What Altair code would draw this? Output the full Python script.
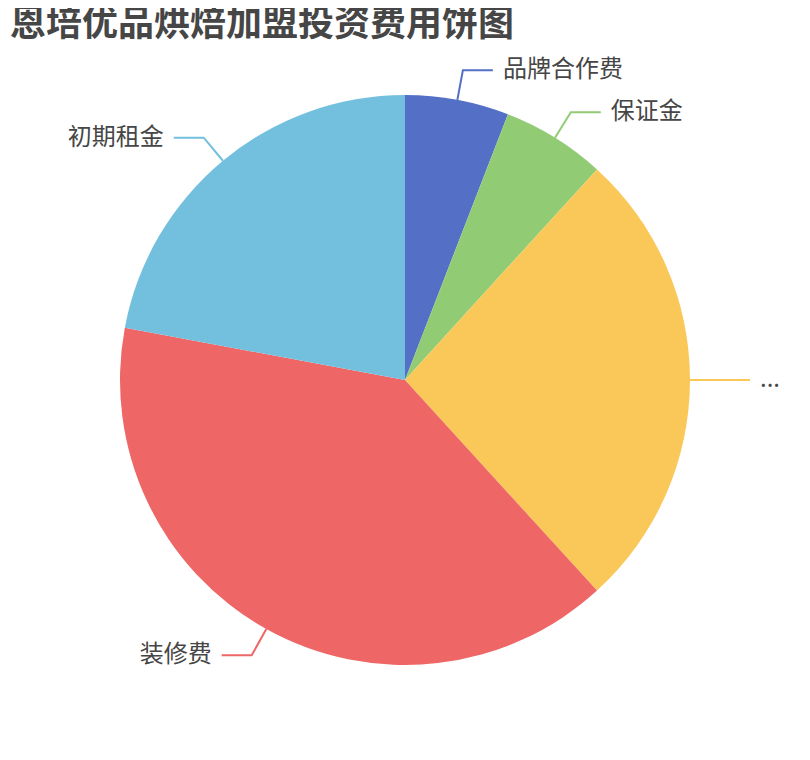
import math
import altair as alt
import pandas as pd

TITLE = "恩培优品烘焙加盟投资费用饼图"
categories = ["品牌合作费", "保证金", "...", "装修费", "初期租金"]
values = [2, 2, 9, 13.5, 7.5]
colors = ["#5470c6", "#91cc75", "#fac858", "#ee6666", "#73c0de"]

W, H = 794, 744
R = 285
L1, L2, GAP = 30, 30, 10

total = sum(values)
rows, lines, labels = [], [], []
cum = 0.0
for i, (c, v) in enumerate(zip(categories, values)):
    rows.append({"cat": c, "value": v, "idx": i})
    mid = (cum + v / 2) / total * 2 * math.pi
    cum += v
    sx, cy = math.sin(mid), math.cos(mid)
    right = sx >= -1e-9
    p0 = (R * sx, R * cy)
    p1 = ((R + L1) * sx, (R + L1) * cy)
    p2 = (p1[0] + (L2 if right else -L2), p1[1])
    for k, p in enumerate([p0, p1, p2]):
        lines.append({"cat": c, "k": k, "x": p[0], "y": p[1]})
    labels.append({"cat": c, "x": p2[0] + (GAP if right else -GAP), "y": p2[1],
                   "side": "r" if right else "l"})

df = pd.DataFrame(rows)
dl = pd.DataFrame(lines)
dt = pd.DataFrame(labels)

cscale = alt.Scale(domain=categories, range=colors)
xs = alt.Scale(domain=[-W / 2, W / 2], nice=False, zero=False)
ys = alt.Scale(domain=[-H / 2, H / 2], nice=False, zero=False)

pie = alt.Chart(df).mark_arc(radius=R).encode(
    theta=alt.Theta("value:Q", stack=True),
    color=alt.Color("cat:N", scale=cscale, legend=None),
    order=alt.Order("idx:Q"),
)

leader = alt.Chart(dl).mark_line(strokeWidth=2).encode(
    x=alt.X("x:Q", scale=xs, axis=None),
    y=alt.Y("y:Q", scale=ys, axis=None),
    color=alt.Color("cat:N", scale=cscale, legend=None),
    detail="cat:N",
    order="k:Q",
)

font = "Noto Sans CJK SC"
txt_r = alt.Chart(dt).transform_filter("datum.side == 'r'").mark_text(
    align="left", baseline="middle", fontSize=24, font=font, color="#464646"
).encode(x=alt.X("x:Q", scale=xs, axis=None), y=alt.Y("y:Q", scale=ys, axis=None), text="cat:N")

txt_l = alt.Chart(dt).transform_filter("datum.side == 'l'").mark_text(
    align="right", baseline="middle", fontSize=24, font=font, color="#464646"
).encode(x=alt.X("x:Q", scale=xs, axis=None), y=alt.Y("y:Q", scale=ys, axis=None), text="cat:N")

title = alt.Chart(pd.DataFrame({"t": [TITLE]})).mark_text(
    align="left", baseline="middle", fontSize=36, fontWeight="bold", font=font, color="#464646"
).encode(x=alt.value(2), y=alt.value(17), text="t:N")

chart = alt.layer(pie, leader, txt_r, txt_l, title).properties(
    width=W, height=H, autosize="none", padding=0
).configure_view(stroke=None)

chart.save("out.html", embed_options={"renderer": "svg", "actions": False})
